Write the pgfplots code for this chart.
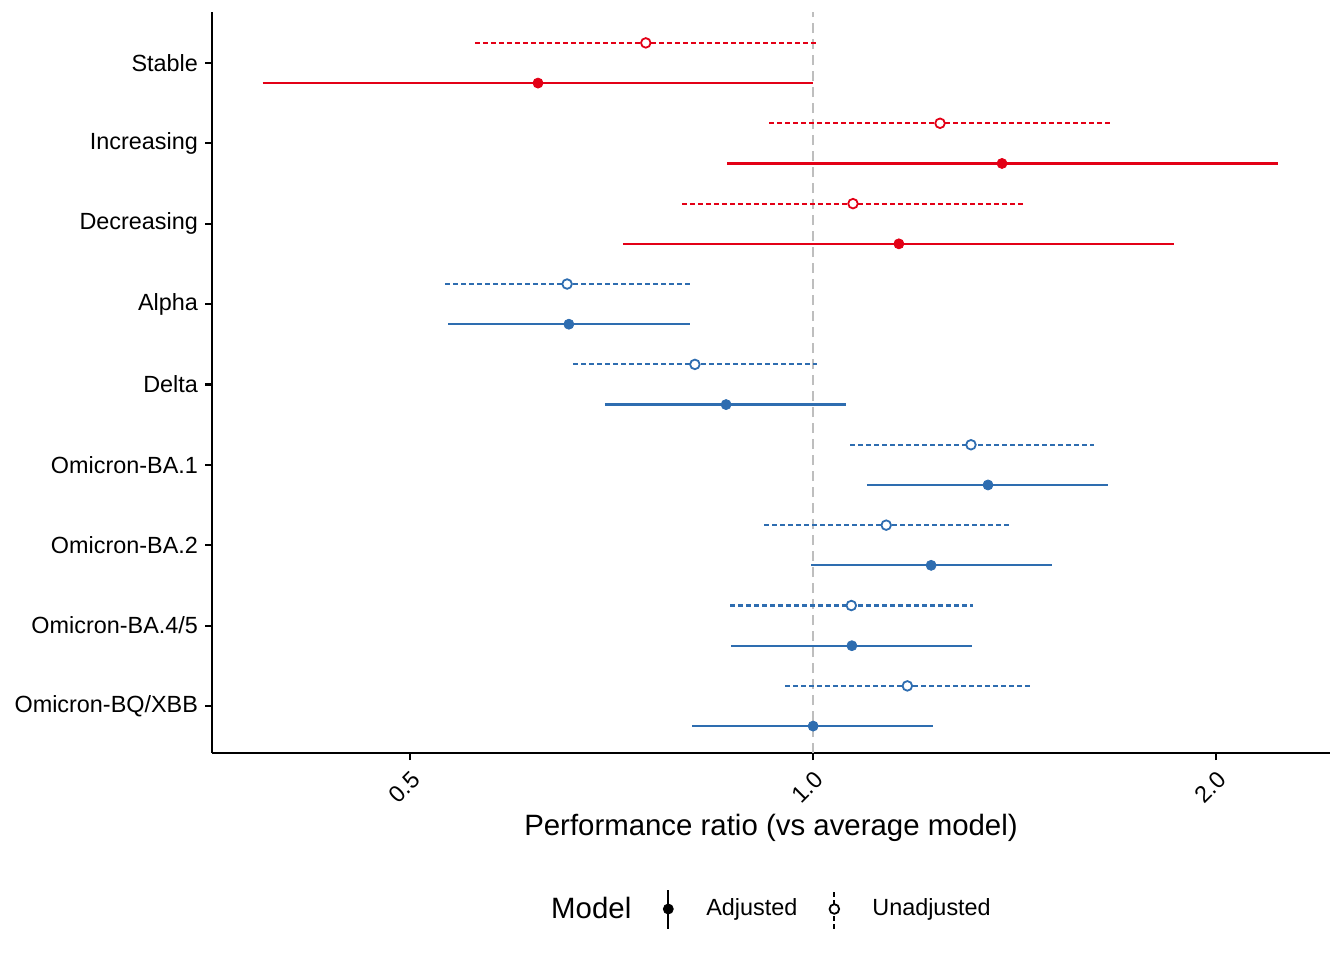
\documentclass[border=0pt]{standalone}
\usepackage{pgfplots}
\usepackage{pgfplotstable}
\pgfplotsset{compat=1.18}
\usepackage{fontspec}
\setmainfont{Liberation Sans}
\definecolor{cred}{RGB}{227,0,22}
\definecolor{cblue}{RGB}{46,109,176}
\definecolor{vgray}{RGB}{190,190,190}

% segments: lower / upper limits (nan rows separate intervals)
\pgfplotstableread{
x y
0.388 8.75
1.000 8.75
nan nan
0.863 7.75
2.225 7.75
nan nan
0.721 6.75
1.861 6.75
}\redadjseg
\pgfplotstableread{
x y
0.559 9.25
1.007 9.25
nan nan
0.927 8.25
1.667 8.25
nan nan
0.798 7.25
1.438 7.25
}\redunadjseg
\pgfplotstableread{
x y
0.534 5.75
0.809 5.75
nan nan
0.699 4.75
1.058 4.75
nan nan
1.097 3.75
1.661 3.75
nan nan
0.997 2.75
1.508 2.75
nan nan
0.868 1.75
1.315 1.75
nan nan
0.812 0.75
1.229 0.75
}\blueadjseg
\pgfplotstableread{
x y
0.531 6.25
0.809 6.25
nan nan
0.662 5.25
1.007 5.25
nan nan
1.066 4.25
1.621 4.25
nan nan
0.919 3.25
1.401 3.25
nan nan
0.867 2.25
1.317 2.25
nan nan
0.953 1.25
1.453 1.25
}\blueunadjseg
% point estimates
\pgfplotstableread{
x y
0.623 8.75
1.384 7.75
1.159 6.75
}\redadjpt
\pgfplotstableread{
x y
0.750 9.25
1.244 8.25
1.071 7.25
}\redunadjpt
\pgfplotstableread{
x y
0.657 5.75
0.861 4.75
1.351 3.75
1.225 2.75
1.069 1.75
1.000 0.75
}\blueadjpt
\pgfplotstableread{
x y
0.655 6.25
0.816 5.25
1.312 4.25
1.134 3.25
1.068 2.25
1.176 1.25
}\blueunadjpt

\begin{document}
\begin{tikzpicture}
\useasboundingbox (-106pt,-103.5pt) rectangle (566pt,376.5pt);
\begin{axis}[
  at={(0,0)}, anchor=south west,
  scale only axis, width=559pt, height=370.5pt,
  xmode=log, log basis x=2,
  xmin=0.3556, xmax=2.433,
  ymin=0.415, ymax=9.6345,
  axis x line*=bottom, axis y line*=left,
  axis line style={line width=1.1pt, -},
  xtick={0.5,1,2}, xticklabels={0.5,1.0,2.0},
  xminorticks=false, yminorticks=false,
  ytick={1,2,3,4,5,6,7,8,9},
  yticklabels={Omicron-BQ/XBB,Omicron-BA.4/5,Omicron-BA.2,Omicron-BA.1,Delta,Alpha,Decreasing,Increasing,Stable},
  tick align=outside, major tick length=3.5pt,
  tick style={line width=1.1pt, black},
  tick label style={font=\fontsize{11.7}{14}\selectfont},
  xticklabel style={rotate=45, anchor=north east},
  xlabel={Performance ratio (vs average model)},
  xlabel style={font=\fontsize{14.7}{17}\selectfont, at={(axis description cs:0.5,0)}, anchor=base, yshift=-41pt},
  legend style={at={(0.5,0)}, anchor=center, yshift=-78pt, draw=none, fill=none,
    legend columns=-1, font=\fontsize{11.7}{14}\selectfont,
    nodes={inner sep=0pt}, column sep=0pt},
]
\addlegendimage{legend image code/.code={}}
\addlegendentry{\fontsize{14.7}{17}\selectfont Model}
\addlegendimage{legend image code/.code={
  \path[draw=none] (-18.5pt,0) -- (19pt,0);
  \draw[black, line width=1.1pt] (0,-9.75pt) -- (0,9.75pt);
  \fill[black] (0,0) circle (2.5pt);}}
\addlegendentry{Adjusted}
\addlegendimage{legend image code/.code={
  \path[draw=none] (-18.5pt,0) -- (19pt,0);
  \draw[black, line width=1.1pt, dash pattern=on 2.5pt off 1.5pt] (0,-9.75pt) -- (0,9.75pt);
  \draw[black, fill=white, line width=0.9pt] (0,0) circle (2.4pt);}}
\addlegendentry{Unadjusted}

\addplot[vgray, line width=1pt, dash pattern=on 5pt off 3pt, forget plot] coordinates {(1,0.415) (1,9.6345)};

\addplot[cred, line width=1.1pt, unbounded coords=jump, forget plot] table {\redadjseg};
\addplot[cred, line width=1.1pt, dash pattern=on 2.5pt off 1.5pt, unbounded coords=jump, forget plot] table {\redunadjseg};
\addplot[cblue, line width=1.1pt, unbounded coords=jump, forget plot] table {\blueadjseg};
\addplot[cblue, line width=1.1pt, dash pattern=on 2.5pt off 1.5pt, unbounded coords=jump, forget plot] table {\blueunadjseg};

\addplot[only marks, mark=*, mark size=2.5pt, mark options={draw=cred, fill=cred}, forget plot] table {\redadjpt};
\addplot[only marks, mark=*, mark size=2.4pt, mark options={draw=cred, fill=white, line width=0.9pt}, forget plot] table {\redunadjpt};
\addplot[only marks, mark=*, mark size=2.5pt, mark options={draw=cblue, fill=cblue}, forget plot] table {\blueadjpt};
\addplot[only marks, mark=*, mark size=2.4pt, mark options={draw=cblue, fill=white, line width=0.9pt}, forget plot] table {\blueunadjpt};
\end{axis}
\end{tikzpicture}
\end{document}
